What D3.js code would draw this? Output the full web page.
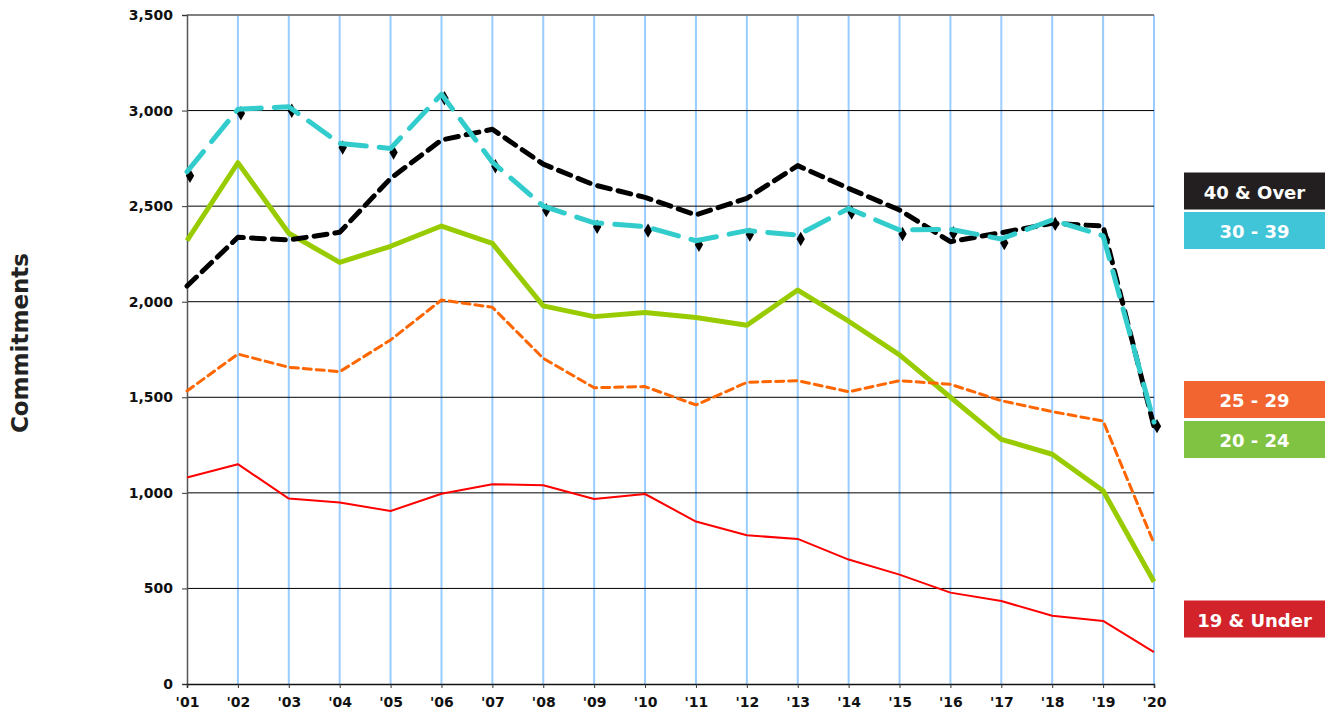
<!DOCTYPE html>
<html>
<head>
<meta charset="utf-8">
<script src="https://cdn.jsdelivr.net/npm/d3@7"></script>
<style>
  body { margin: 0; background: #fff; }
  svg { display: block; }
  .tick text { font-family: "DejaVu Sans", Verdana, sans-serif; font-weight: bold; font-size: 14px; fill: #111; }
</style>
</head>
<body>
<svg id="chart" width="1333" height="715"></svg>
<script>
// chart data
const years = ["'01","'02","'03","'04","'05","'06","'07","'08","'09","'10","'11","'12","'13","'14","'15","'16","'17","'18","'19","'20"];
const under19 = [1080, 1150, 970, 950, 905, 995, 1045, 1040, 968, 994, 850, 778, 759, 651, 572, 478, 434, 357, 330, 167];
const age20to24 = [2320, 2727, 2358, 2206, 2290, 2396, 2305, 1978, 1922, 1943, 1917, 1877, 2061, 1898, 1722, 1500, 1280, 1202, 1011, 535];
const age25to29 = [1533, 1726, 1657, 1634, 1800, 2009, 1971, 1704, 1550, 1556, 1460, 1578, 1587, 1529, 1587, 1568, 1482, 1425, 1376, 736];
const age30to39 = [2680, 3007, 3020, 2828, 2802, 3085, 2730, 2500, 2413, 2393, 2319, 2372, 2349, 2488, 2375, 2379, 2328, 2428, 2345, 1370];
const age40plus = [2082, 2337, 2323, 2363, 2645, 2846, 2902, 2720, 2611, 2546, 2454, 2541, 2712, 2593, 2480, 2314, 2361, 2410, 2396, 1346];
const yTicks = [0, 500, 1000, 1500, 2000, 2500, 3000, 3500];

const series = [
  {name: "19 & Under", values: under19, color: "#ff0000", width: 2, dash: null, legend: "#d2232a", ly: 600.5},
  {name: "20 - 24", values: age20to24, color: "#99cc00", width: 5, dash: null, legend: "#80c241", ly: 421},
  {name: "25 - 29", values: age25to29, color: "#ff6600", width: 3, dash: "8,5", legend: "#f26531", ly: 381},
  {name: "40 & Over", values: age40plus, color: "#000000", width: 5, dash: "13,8", legend: "#231f20", ly: 172.5},
  {name: "30 - 39", values: age30to39, color: "#33cccc", width: 5, dash: "26,13", legend: "#40c4d8", ly: 212}
];

const svg = d3.select("#chart");
const plotL = 187, plotR = 1154, plotT = 15, plotB = 684;

const x = d3.scalePoint().domain(years).range([plotL, plotR]);
const y = d3.scaleLinear().domain([0, 3500]).range([plotB, plotT]);

// vertical light blue grid
svg.append("g").selectAll("line").data(years.slice(1)).join("line")
  .attr("x1", d => x(d)).attr("x2", d => x(d))
  .attr("y1", plotT).attr("y2", plotB)
  .attr("stroke", "#99ccff").attr("stroke-width", 2);

// horizontal grid
svg.append("g").selectAll("line").data(yTicks.slice(1, -1)).join("line")
  .attr("x1", plotL).attr("x2", plotR)
  .attr("y1", d => y(d)).attr("y2", d => y(d))
  .attr("stroke", "#000").attr("stroke-width", 1);
svg.append("line").attr("x1", plotL).attr("x2", plotR)
  .attr("y1", y(3500)).attr("y2", y(3500))
  .attr("stroke", "#808080").attr("stroke-width", 2);

// axes
const yAxis = svg.append("g").attr("transform", `translate(${plotL},0)`)
  .call(d3.axisLeft(y).tickValues(yTicks).tickFormat(d3.format(",")).tickSize(5).tickPadding(9));
yAxis.select(".domain").attr("stroke", "#555").attr("stroke-width", 1.5);
yAxis.selectAll(".tick line").attr("stroke", "#333");

const xAxis = svg.append("g").attr("transform", `translate(0,${plotB})`)
  .call(d3.axisBottom(x).tickSize(4).tickPadding(9));
xAxis.select(".domain").attr("stroke", "#111").attr("stroke-width", 1.5);
xAxis.selectAll(".tick line").attr("stroke", "#333");

svg.append("text")
  .attr("transform", "translate(28,343) rotate(-90)")
  .attr("text-anchor", "middle")
  .style("font-family", "'DejaVu Sans', Verdana, sans-serif")
  .style("font-weight", "bold").style("font-size", "23px").attr("fill", "#222")
  .text("Commitments");

const line = d3.line().x((d, i) => x(years[i])).y(d => y(d));

series.forEach(s => {
  if (s.name === "30 - 39") {
    // black diamond markers peeking out under the cyan line
    svg.append("g").selectAll("path").data(s.values).join("path")
      .attr("d", d3.symbol(d3.symbolDiamond, 60))
      .attr("transform", (d, i) => `translate(${x(years[i]) + 3},${y(d) + 4})`)
      .attr("fill", "#000");
  }
  svg.append("path").datum(s.values)
    .attr("d", line)
    .attr("fill", "none")
    .attr("stroke", s.color)
    .attr("stroke-width", s.width)
    .attr("stroke-dasharray", s.dash)
    .attr("stroke-linecap", s.dash ? "round" : "butt")
    .attr("stroke-linejoin", "round");
});

// legend boxes
const lg = svg.append("g").selectAll("g").data(series).join("g")
  .attr("transform", d => `translate(1184,${d.ly})`);
lg.append("rect").attr("width", 141).attr("height", 37).attr("fill", d => d.legend);
lg.append("text").attr("x", 70.5).attr("y", 26).attr("text-anchor", "middle")
  .style("font-family", "'DejaVu Sans', Verdana, sans-serif").style("font-weight", "bold")
  .style("font-size", "18px").attr("fill", "#fff")
  .text(d => d.name);
</script>
</body>
</html>
